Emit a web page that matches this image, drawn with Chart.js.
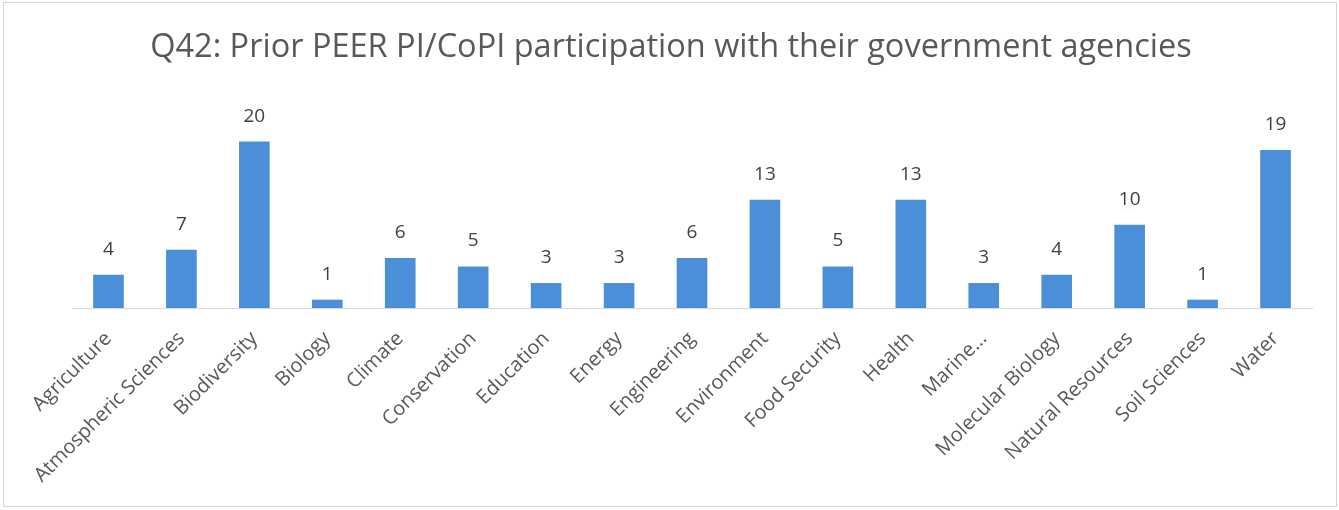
<!DOCTYPE html>
<html>
<head>
<meta charset="utf-8">
<script src="https://cdn.jsdelivr.net/npm/chart.js@4.4.1/dist/chart.umd.min.js"></script>
<style>
  html, body { margin: 0; padding: 0; background: #fff; }
  #wrap { width: 1339px; height: 510px; }
</style>
</head>
<body>
<div id="wrap"><canvas id="agencyChart" width="1339" height="510"></canvas></div>
<script>
const categories = [
  'Agriculture', 'Atmospheric Sciences', 'Biodiversity', 'Biology', 'Climate',
  'Conservation', 'Education', 'Energy', 'Engineering', 'Environment',
  'Food Security', 'Health', 'Marine...', 'Molecular Biology', 'Natural Resources',
  'Soil Sciences', 'Water',
];
const responses = [4, 7, 20, 1, 6, 5, 3, 3, 6, 13, 5, 13, 3, 4, 10, 1, 19];
const yMax = 25;

const titleText = 'Q42: Prior PEER PI/CoPI participation with their government agencies';
const fontFamily = '"Open Sans", "Noto Sans", sans-serif';

// white background plus the thin grey frame round the chart
const framePlugin = {
  id: 'frame',
  beforeDraw(chart) {
    const { ctx, width, height } = chart;
    ctx.save();
    ctx.fillStyle = '#ffffff';
    ctx.fillRect(0, 0, width, height);
    ctx.strokeStyle = '#d4d4d4';
    ctx.lineWidth = 1;
    ctx.strokeRect(3.5, 2.5, 1333, 504);
    ctx.restore();
  },
};

// value printed above each bar
const valueLabels = {
  id: 'valueLabels',
  afterDatasetsDraw(chart) {
    const { ctx } = chart;
    const meta = chart.getDatasetMeta(0);
    ctx.save();
    ctx.fillStyle = '#404040';
    ctx.font = `19px ${fontFamily}`;
    ctx.textAlign = 'center';
    ctx.textBaseline = 'alphabetic';
    meta.data.forEach((bar, i) => {
      ctx.fillText(String(responses[i]), bar.x, bar.y - 20);
    });
    ctx.restore();
  },
};

new Chart(document.getElementById('agencyChart'), {
  type: 'bar',
  data: {
    labels: categories,
    datasets: [
      {
        data: responses,
        backgroundColor: '#4a8fd8',
        barPercentage: 0.7,
        categoryPercentage: 0.6,
      },
    ],
  },
  options: {
    responsive: false,
    animation: false,
    layout: {
      padding: { left: 30, right: 27, top: 0, bottom: 0 },
    },
    plugins: {
      legend: { display: false },
      tooltip: { enabled: false },
      title: {
        display: true,
        text: titleText,
        color: '#595959',
        font: { family: fontFamily, size: 32.5, weight: 'normal' },
        padding: { top: 28, bottom: 33 },
      },
    },
    scales: {
      x: {
        grid: { display: false, drawTicks: false },
        border: { color: '#d9d9d9', width: 1 },
        ticks: {
          color: '#595959',
          font: { family: fontFamily, size: 20 },
          minRotation: 45,
          maxRotation: 45,
          autoSkip: false,
          padding: 19,
        },
        afterFit: (scale) => {
          scale.height = 202;
        },
      },
      // invisible value axis, only reserves the left margin
      y: {
        min: 0,
        max: yMax,
        grid: { display: false },
        border: { display: false },
        ticks: { display: false },
        afterFit: (scale) => {
          scale.width = 42;
        },
      },
    },
  },
  plugins: [framePlugin, valueLabels],
});
</script>
</body>
</html>
